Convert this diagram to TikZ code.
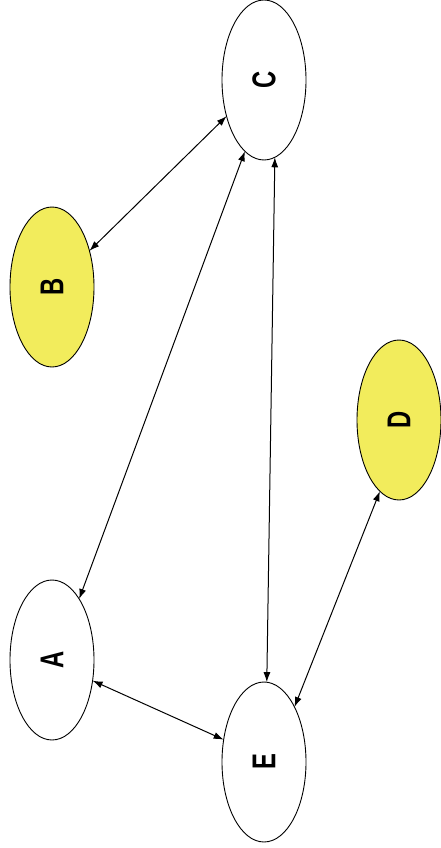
\documentclass[tikz,border=0pt]{standalone}
\usepackage{fontspec}
\setmainfont{Liberation Sans}
\usetikzlibrary{shapes.geometric,arrows.meta}
\definecolor{jaune}{RGB}{242,236,92}
\newcommand{\lettre}[1]{\rotatebox{90}{\scalebox{0.72}[1]{#1}}}
\begin{document}
\begin{tikzpicture}[x=1pt,y=-1pt]
		% définition des styles
		\tikzstyle{sommet}=[ellipse,draw,line width=0.9pt,fill=white,text=black,inner sep=0pt,outer sep=0pt,minimum width=84pt,minimum height=160pt,font=\bfseries\fontsize{33}{33}\selectfont]
		\tikzstyle{marque}=[sommet,fill=jaune]
		\tikzstyle{lien}=[<->,>={Latex[length=10pt,width=7pt]},line width=1pt]
		\useasboundingbox (0,0) rectangle (440,848);
		% les nœuds
		\node[sommet] (c) at (264,80) {\lettre{C}};
		\node[marque] (b) at (52,287) {\lettre{B}};
		\node[marque] (d) at (399,420) {\lettre{D}};
		\node[sommet] (a) at (52,660) {\lettre{A}};
		\node[sommet] (e) at (264,762) {\lettre{E}};
		% les flèches
		\draw[lien] (b.44) -- (c.224);
		\draw[lien] (a.66) -- (c.255);
		\draw[lien] (c.278) -- (e.88);
		\draw[lien] (a.333) -- (e.151);
		\draw[lien] (d.255) -- (e.61);
	\end{tikzpicture}
\end{document}
